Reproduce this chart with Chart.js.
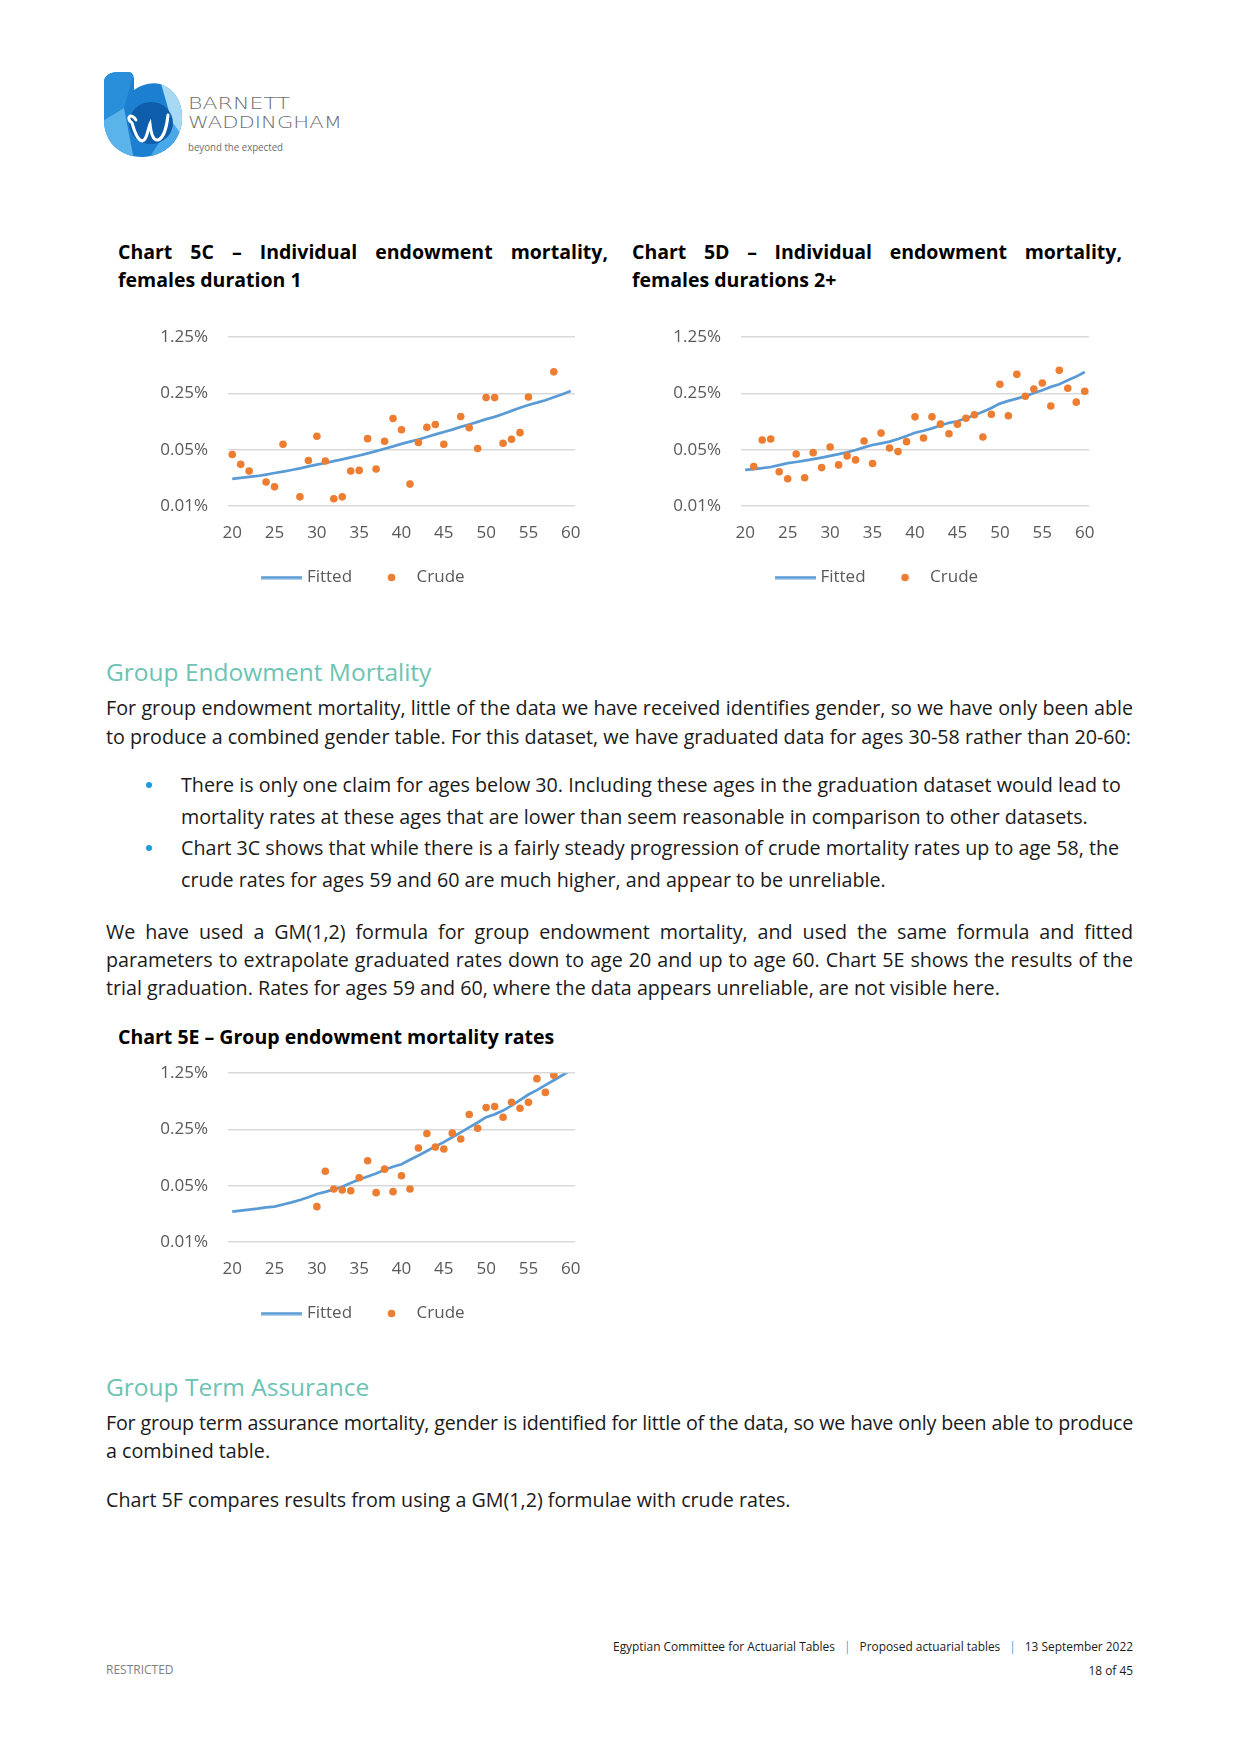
<!DOCTYPE html>
<html><head><meta charset="utf-8">
<script src="https://cdn.jsdelivr.net/npm/chart.js@4.4.1/dist/chart.umd.min.js"></script>
<style>
html,body{margin:0;padding:0;background:#fff;}
body{width:1241px;height:1754px;position:relative;overflow:hidden;font-family:'Open Sans','Noto Sans',sans-serif;color:#1a1a1a;}
.ln{position:absolute;font-size:19.7px;line-height:28px;height:28px;white-space:nowrap;}
.j{text-align:justify;text-align-last:justify;white-space:normal;overflow:hidden;}
.h{position:absolute;left:106px;font-size:24.5px;line-height:32px;color:#6cc3b4;white-space:nowrap;}
.ct{position:absolute;font-weight:700;font-size:19.5px;line-height:28px;color:#000;white-space:nowrap;}
.dot{position:absolute;left:146px;width:6px;height:6px;border-radius:50%;background:#1e9be0;}
.box{position:absolute;}
.ft{position:absolute;font-size:11.9px;line-height:18px;white-space:nowrap;}
.sep{color:#3aa6dc;margin:0 9px;}
</style></head>
<body>
<svg style="position:absolute;left:0;top:0" width="400" height="180" viewBox="0 0 400 180">
  <defs>
    <clipPath id="lg"><path d="M104,82 C104,76 110,72 118,72 L128,72 C132,72 134,75 134,80 L134,90 C142,84 152,82 160,84 C175,89 183,103 182,120 C181,142 163,157 142,157 C120,157 104,142 104,120 Z"/></clipPath>
  </defs>
  <g clip-path="url(#lg)">
    <rect x="100" y="68" width="90" height="95" fill="#1c7fd0"/>
    <path d="M98,66 L136,66 L124,108 L98,124 Z" fill="#2a8fdb"/>
    <path d="M98,124 L124,108 L134,160 L98,162 Z" fill="#5ab4ea"/>
    <path d="M160,80 L192,92 L192,150 L172,122 Z" fill="#a6d9f4"/>
    <path d="M148,160 L172,122 L192,150 L190,165 Z" fill="#4aa8e6"/>
    <ellipse cx="151" cy="123" rx="22" ry="21" fill="#0d5dab"/>
  </g>
  <path d="M136,120 C131,112 125,118 132,123 C134,130 137,140 142,141 C147,141 148,128 150,124 C151,133 153,141 158,140 C164,138 167,125 168,115" fill="none" stroke="#fff" stroke-width="3" stroke-linecap="round"/>
  <text x="188" y="108.5" font-family="DejaVu Sans" font-weight="200" font-size="16.5" fill="#6d6e71" textLength="102" lengthAdjust="spacingAndGlyphs">BARNETT</text>
  <text x="188" y="128" font-family="DejaVu Sans" font-weight="200" font-size="16.5" fill="#6d6e71" textLength="154" lengthAdjust="spacingAndGlyphs">WADDINGHAM</text>
  <text x="188" y="151" font-family="Open Sans" font-weight="400" font-size="10" fill="#6d6e71" textLength="95" lengthAdjust="spacingAndGlyphs">beyond the expected</text>
</svg>

<div class="ct j" style="left:118px;top:238px;width:490px;">Chart 5C – Individual endowment mortality,</div>
<div class="ct" style="left:118px;top:266px;">females duration 1</div>
<div class="ct j" style="left:632px;top:238px;width:490px;">Chart 5D – Individual endowment mortality,</div>
<div class="ct" style="left:632px;top:266px;">females durations 2+</div>

<div class="box" style="left:130px;top:307px;width:470px;height:289px;"><canvas id="c5c"></canvas></div>
<div class="box" style="left:643px;top:307px;width:471px;height:289px;"><canvas id="c5d"></canvas></div>

<div class="h" style="top:656px;">Group Endowment Mortality</div>
<div class="ln j" style="left:106px;width:1027px;top:694px;">For group endowment mortality, little of the data we have received identifies gender, so we have only been able</div>
<div class="ln" style="left:106px;top:723px;">to produce a combined gender table. For this dataset, we have graduated data for ages 30-58 rather than 20-60:</div>

<div class="dot" style="top:782px;"></div>
<div class="ln" style="left:181px;top:771px;">There is only one claim for ages below 30. Including these ages in the graduation dataset would lead to</div>
<div class="ln" style="left:181px;top:803px;">mortality rates at these ages that are lower than seem reasonable in comparison to other datasets.</div>
<div class="dot" style="top:845px;"></div>
<div class="ln" style="left:181px;top:834px;">Chart 3C shows that while there is a fairly steady progression of crude mortality rates up to age 58, the</div>
<div class="ln" style="left:181px;top:866px;">crude rates for ages 59 and 60 are much higher, and appear to be unreliable.</div>

<div class="ln j" style="left:106px;width:1027px;top:918px;">We have used a GM(1,2) formula for group endowment mortality, and used the same formula and fitted</div>
<div class="ln j" style="left:106px;width:1027px;top:946px;">parameters to extrapolate graduated rates down to age 20 and up to age 60. Chart 5E shows the results of the</div>
<div class="ln" style="left:106px;top:974px;">trial graduation. Rates for ages 59 and 60, where the data appears unreliable, are not visible here.</div>

<div class="ct" style="left:118px;top:1023px;">Chart 5E – Group endowment mortality rates</div>
<div class="box" style="left:130px;top:1043px;width:470px;height:289px;"><canvas id="c5e"></canvas></div>

<div class="h" style="top:1371px;">Group Term Assurance</div>
<div class="ln j" style="left:106px;width:1027px;top:1409px;">For group term assurance mortality, gender is identified for little of the data, so we have only been able to produce</div>
<div class="ln" style="left:106px;top:1437px;">a combined table.</div>
<div class="ln" style="left:106px;top:1486px;">Chart 5F compares results from using a GM(1,2) formulae with crude rates.</div>

<div class="ft" style="right:108px;top:1637px;">Egyptian Committee for Actuarial Tables<span class="sep">|</span>Proposed actuarial tables<span class="sep">|</span>13 September 2022</div>
<div class="ft" style="right:108px;top:1661px;">18 of 45</div>
<div class="ft" style="left:106px;top:1661px;color:#7f7f7f;font-size:12px;">RESTRICTED</div>

<script>
const ages = [20,21,22,23,24,25,26,27,28,29,30,31,32,33,34,35,36,37,38,39,40,41,42,43,44,45,46,47,48,49,50,51,52,53,54,55,56,57,58,59,60];
const xTicks = [20,25,30,35,40,45,50,55,60];
const yTicks = [0.01,0.05,0.25,1.25];
const legendLabels = ['Fitted','Crude'];

// values in percent
const fitted5C = [0.0217,0.0223,0.0230,0.0236,0.0246,0.0257,0.0268,0.0280,0.0294,0.0310,
  0.0326,0.0342,0.0360,0.0380,0.0401,0.0424,0.0450,0.0480,0.0515,0.0550,
  0.0591,0.0630,0.0670,0.0720,0.0775,0.0830,0.0890,0.0960,0.103,0.111,
  0.120,0.128,0.139,0.152,0.166,0.180,0.192,0.206,0.224,0.245,0.268];
const crude5C = [0.0437,0.0329,0.0272,null,0.0199,0.0173,0.0585,null,0.0130,0.0368,
  0.0734,0.0362,0.0123,0.0130,0.0272,0.0277,0.0687,0.0288,0.0637,0.122,
  0.0887,0.0187,0.0614,0.0948,0.103,0.0585,null,0.1295,0.0939,0.0518,
  0.222,0.222,0.0602,0.0675,0.0815,0.226,null,null,0.464,null,null];

const fitted5D = [0.0281,0.0288,0.0295,0.0305,0.0322,0.0340,0.0352,0.0366,0.0382,0.0400,
  0.0419,0.0440,0.0465,0.0496,0.0535,0.0573,0.0600,0.0630,0.0680,0.0740,
  0.0813,0.0860,0.0920,0.100,0.108,0.113,0.123,0.134,0.148,0.165,
  0.187,0.202,0.216,0.232,0.253,0.274,0.302,0.325,0.364,0.405,0.461];
const crude5D = [null,0.0309,0.0660,0.0679,0.0266,0.0218,0.0443,0.0224,0.0460,0.0300,
  0.0541,0.0324,0.0419,0.0374,0.0642,0.0337,0.0805,0.0526,0.0474,0.0630,
  0.128,0.0699,0.128,0.104,0.0791,0.104,0.123,0.136,0.0719,0.138,
  0.325,0.132,0.432,0.231,0.284,0.337,0.175,0.484,0.290,0.195,0.266];

const fitted5E = [0.0239,0.0246,0.0253,0.0260,0.0270,0.0275,0.0292,0.0310,0.0332,0.0360,
  0.0395,0.0420,0.0450,0.0486,0.0540,0.0598,0.0650,0.0710,0.0790,0.0860,
  0.0925,0.105,0.119,0.135,0.154,0.174,0.200,0.230,0.265,0.305,
  0.355,0.385,0.429,0.494,0.580,0.680,0.770,0.888,1.02,1.18,1.36];
const crude5E = [null,null,null,null,null,null,null,null,null,null,
  0.0275,0.0758,0.0455,0.0442,0.0434,0.0628,0.102,0.0410,0.0803,0.0422,
  0.0664,0.0455,0.147,0.223,0.151,0.143,0.225,0.190,0.383,0.259,
  0.467,0.481,0.355,0.543,0.458,0.543,1.07,0.722,1.18,null,null];

const BLUE = '#5b9bd5', ORANGE = '#ed7d31', GREY = '#595959';

function icon(kind){
  const c = document.createElement('canvas');
  const g = c.getContext('2d');
  if (kind === 'line') {
    c.width = 41; c.height = 4;
    g.strokeStyle = BLUE; g.lineWidth = 3;
    g.beginPath(); g.moveTo(0,2); g.lineTo(41,2); g.stroke();
  } else {
    c.width = 9; c.height = 9;
    g.fillStyle = ORANGE;
    g.beginPath(); g.arc(4.5,4.5,3.8,0,Math.PI*2); g.fill();
  }
  return c;
}

function build(id, fitted, crude){
  const icons = [icon('line'), icon('dot')];
  new Chart(document.getElementById(id), {
    type: 'scatter',
    data: { datasets: [
      { label: legendLabels[0], data: ages.map((a,i)=>({x:a, y:fitted[i]})), showLine: true,
        borderColor: BLUE, backgroundColor: BLUE, borderWidth: 2.75, pointRadius: 0, pointHoverRadius: 0,
        tension: 0, fill: false, order: 2 },
      { label: legendLabels[1], data: ages.map((a,i)=>({x:a, y:crude[i]})).filter(p=>p.y !== null), showLine: false,
        pointRadius: 3.8, pointHoverRadius: 3.8, pointBorderWidth: 0, backgroundColor: ORANGE, borderColor: ORANGE, order: 1 }
    ]},
    options: {
      responsive: true, maintainAspectRatio: false, animation: false, events: [],
      layout: { padding: { left: 25, right: 25, top: 0, bottom: 0 } },
      scales: {
        x: { type: 'linear', min: 19.5, max: 60.5, bounds: 'data',
          afterBuildTicks: s => { s.ticks = xTicks.map(v => ({value: v})); },
          afterFit: s => { s.height = 40; },
          grid: { display: false, drawTicks: false }, border: { display: false },
          ticks: { padding: 17, color: GREY, font: { size: 17 }, maxRotation: 0, autoSkip: false, callback: v => String(v) } },
        y: { type: 'logarithmic', min: yTicks[0], max: yTicks[yTicks.length-1], bounds: 'data',
          afterBuildTicks: s => { s.ticks = yTicks.map(v => ({value: v})); },
          afterFit: s => { s.width = 73; },
          grid: { color: '#d9d9d9', lineWidth: 1.5, drawTicks: false }, border: { display: false },
          ticks: { padding: 20, color: GREY, font: { size: 17 }, autoSkip: false, callback: v => Number(v).toFixed(2) + '%' } }
      },
      plugins: {
        tooltip: { enabled: false },
        legend: { position: 'bottom',
          labels: { usePointStyle: true, pointStyleWidth: 33, padding: 23, color: GREY, font: { size: 17 },
            generateLabels: () => legendLabels.map((t,i) => ({ text: t, pointStyle: icons[i], fillStyle: 'rgba(0,0,0,0)',
              strokeStyle: 'rgba(0,0,0,0)', lineWidth: 0, hidden: false, datasetIndex: i, fontColor: GREY })) } }
      }
    }
  });
}

function fitLines(){
  document.querySelectorAll('.j').forEach(el => {
    let ls = 0;
    while (el.scrollHeight > el.clientHeight + 2 && ls > -1.5) { ls -= 0.05; el.style.letterSpacing = ls + 'px'; }
  });
}

Chart.defaults.font.family = "'Open Sans', 'Noto Sans', sans-serif";
Chart.defaults.font.size = 17;
Chart.defaults.color = GREY;

function go(){
  fitLines();
  build('c5c', fitted5C, crude5C);
  build('c5d', fitted5D, crude5D);
  build('c5e', fitted5E, crude5E);
}
if (document.fonts && document.fonts.load) {
  Promise.all([document.fonts.load("17px 'Open Sans'"), document.fonts.load("bold 19px 'Open Sans'")]).then(go, go);
} else { go(); }
</script>
</body></html>
